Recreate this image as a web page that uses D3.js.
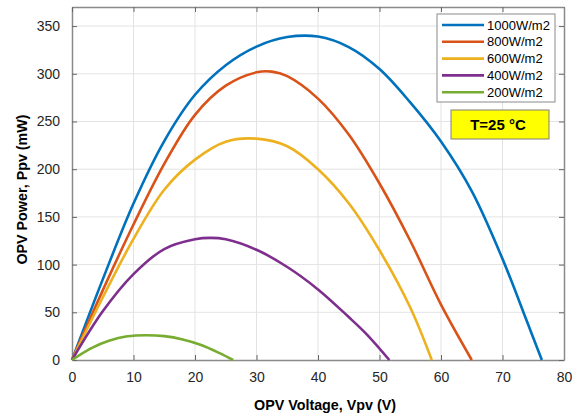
<!DOCTYPE html>
<html>
<head>
<meta charset="utf-8">
<script src="https://cdn.jsdelivr.net/npm/d3@7"></script>
<style>
  body { margin: 0; background: #fff; }
  text { font-family: Arial, "Liberation Sans", sans-serif; }
</style>
</head>
<body>
<div class="chart-container"></div>
<script>
// irradiance series: [voltage V, power mW]
const seriesNames = ['1000W/m2', '800W/m2', '600W/m2', '400W/m2', '200W/m2'];
const seriesColors = ['#0072bd', '#d95319', '#edb120', '#7e2f8e', '#77ac30'];

const p1000 = [[0,0],[5,84.5],[10,164],[15,229.5],[20,278],[25,309],[30,328.5],[35,338.5],[40,339],[45,328],[50,305],[55,270],[60,229],[65,177],[70,106],[74,40],[76.4,0]];
const p800 = [[0,0],[5,73],[10,142],[15,205.5],[20,257],[25,287.5],[30,301.5],[32.5,302.3],[35,297.5],[40,274],[45,236.3],[50,185],[55,125],[60,58],[65,0]];
const p600 = [[0,0],[5,65.5],[10,127],[15,178.5],[20,210],[25,228.8],[30,232],[35,224],[40,200],[45,164.3],[50,115],[55,55],[58.5,0]];
const p400 = [[0,0],[5,51],[10,90],[15,116.3],[20,126.5],[22.5,128],[25,126.5],[30,115.5],[35,97.5],[40,74],[45,45],[48,26.4],[51.6,0]];
const p200 = [[0,0],[3,12],[6,20.1],[9,24.8],[12,26],[15,25],[18,21.6],[21,15.8],[24,7.2],[26.2,0]];

const xTicks = [0,10,20,30,40,50,60,70,80];
const yTicks = [0,50,100,150,200,250,300,350];

function setupCanvas(){
    const svg_width = 584;
    const svg_height = 417;
    const margin = {top:7, right:20, bottom:57, left:72};
    const chart_width = svg_width - margin.left - margin.right;
    const chart_height = svg_height - margin.top - margin.bottom;

    const svg = d3.select('.chart-container')
                  .append('svg')
                  .attr('width', svg_width).attr('height', svg_height);
    const g = svg.append('g')
                 .attr('transform', `translate(${margin.left},${margin.top})`);

    const xScale = d3.scaleLinear().domain([0,80]).range([0,chart_width]);
    const yScale = d3.scaleLinear().domain([0,370]).range([chart_height,0]);

    // grid
    g.append('g').selectAll('line').data(xTicks.slice(1,-1)).join('line')
     .attr('x1', d=>xScale(d)).attr('x2', d=>xScale(d))
     .attr('y1', 0).attr('y2', chart_height)
     .style('stroke', '#e3e3e3').style('stroke-width', 1);
    g.append('g').selectAll('line').data(yTicks.slice(1)).join('line')
     .attr('x1', 0).attr('x2', chart_width)
     .attr('y1', d=>yScale(d)).attr('y2', d=>yScale(d))
     .style('stroke', '#e3e3e3').style('stroke-width', 1);

    // axes, ticks inward on all sides (box on)
    const fmt = d3.format('d');
    const xAxis = d3.axisBottom(xScale).tickValues(xTicks).tickFormat(fmt).tickSizeInner(-5).tickSizeOuter(0).tickPadding(12);
    const yAxis = d3.axisLeft(yScale).tickValues(yTicks).tickFormat(fmt).tickSizeInner(-5).tickSizeOuter(0).tickPadding(12);
    const xTop = d3.axisTop(xScale).tickValues(xTicks).tickFormat('').tickSizeInner(-5).tickSizeOuter(0);
    const yRight = d3.axisRight(yScale).tickValues(yTicks).tickFormat('').tickSizeInner(-5).tickSizeOuter(0);

    const axes = [
        g.append('g').attr('transform', `translate(0,${chart_height})`).call(xAxis),
        g.append('g').call(yAxis),
        g.append('g').call(xTop),
        g.append('g').attr('transform', `translate(${chart_width},0)`).call(yRight)
    ];
    axes.forEach(a => {
        a.select('.domain').style('stroke', '#8a8a8a').style('stroke-width', 1.5);
        a.selectAll('.tick line').style('stroke', '#666');
        a.selectAll('.tick text').style('font-size', '14px').style('fill', '#262626')
         .style('font-family', 'Arial, "Liberation Sans", sans-serif');
    });

    // curves
    const allSeries = [p1000, p800, p600, p400, p200];
    const line = d3.line()
                   .x(d=>xScale(d[0]))
                   .y(d=>yScale(d[1]))
                   .curve(d3.curveCatmullRom.alpha(0.5));
    g.append('g').selectAll('path').data(allSeries).join('path')
     .attr('d', line)
     .style('fill', 'none')
     .style('stroke', (d,i)=>seriesColors[i])
     .style('stroke-width', 2.6)
     .style('stroke-linejoin', 'round');

    // axis labels
    svg.append('text')
       .attr('x', 325).attr('y', 409.5)
       .attr('text-anchor', 'middle')
       .style('font-size', '14.3px').style('font-weight', 'bold').style('fill', '#000')
       .text('OPV Voltage, Vpv (V)');
    svg.append('text')
       .attr('transform', 'translate(27,189.5) rotate(-90)')
       .attr('text-anchor', 'middle')
       .style('font-size', '14.3px').style('font-weight', 'bold').style('fill', '#000')
       .text('OPV Power, Ppv (mW)');

    // legend
    const legend = svg.append('g').attr('transform', 'translate(437,14)');
    legend.append('rect')
          .attr('width', 118).attr('height', 88)
          .style('fill', '#fff').style('stroke', '#8a8a8a').style('stroke-width', 1);
    const rows = legend.selectAll('.row').data(seriesNames).join('g')
                       .attr('class', 'row')
                       .attr('transform', (d,i)=>`translate(0,${11 + i*16.8})`);
    rows.append('line').attr('x1', 5).attr('x2', 47).attr('y1', 0).attr('y2', 0)
        .style('stroke', (d,i)=>seriesColors[i]).style('stroke-width', 2.6);
    rows.append('text').attr('x', 50).attr('y', 0).attr('dy', '0.35em')
        .style('font-size', '13px').style('fill', '#000')
        .text(d=>d);

    // temperature note
    const note = svg.append('g').attr('transform', 'translate(451,110)');
    note.append('rect').attr('width', 98).attr('height', 29)
        .style('fill', '#ffff00').style('stroke', '#7f7f7f').style('stroke-width', 1);
    note.append('text').attr('x', 47).attr('y', 15).attr('dy', '0.35em')
        .attr('text-anchor', 'middle')
        .style('font-size', '15px').style('font-weight', 'bold').style('fill', '#000')
        .text('T=25 °C');
}

setupCanvas();
</script>
</body>
</html>
